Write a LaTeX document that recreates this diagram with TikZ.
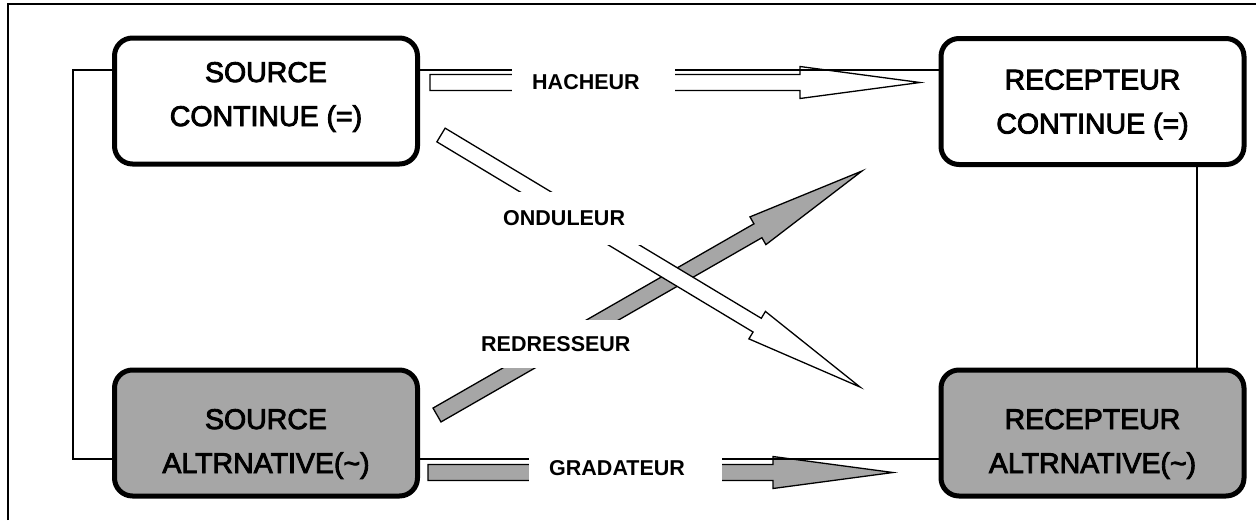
\documentclass[tikz,border=0pt]{standalone}
\usepackage{fontspec}
\setmainfont{Liberation Sans}
\newfontfamily\medfont[FakeBold=3]{Liberation Sans}
\usetikzlibrary{calc}
\definecolor{boxgray}{HTML}{A6A6A6}
\tikzset{
  box/.style={draw, line width=5pt, rounded corners=18pt, minimum width=303pt,
    minimum height=126pt, inner sep=0pt, align=center,
    font=\medfont\fontsize{28.5}{44}\selectfont, text depth=0pt},
  dcbox/.style={box, fill=white},
  acbox/.style={box, fill=boxgray},
  conn/.style={line width=1.3pt},
  frameline/.style={line width=1.3pt},
  fat/.style={draw, line width=1.3pt, line join=miter},
  lbl/.style={fill=white, inner xsep=20pt, inner ysep=0pt,
    font=\bfseries\fontsize{21.5}{25}\selectfont, align=left, anchor=west},
}
\newcommand\fatarrow[4]{% #1 style, #2 tail, #3 tip, #4 prefix
  \coordinate (#4b) at ($(#3)!120pt!(#2)$);
  \draw[#1] ($(#2)!8pt!90:(#3)$) -- ($(#4b)!8pt!90:(#3)$)
    -- ($(#4b)!16pt!90:(#3)$) -- (#3) -- ($(#4b)!16pt!-90:(#3)$)
    -- ($(#4b)!8pt!-90:(#3)$) -- ($(#2)!8pt!-90:(#3)$) -- cycle;}
\begin{document}
\begin{tikzpicture}[x=1pt,y=-1pt]
\useasboundingbox (0,0) rectangle (1256,520);
% frame
\draw[frameline] (8,520) -- (8,4) -- (1256,4);
% boxes
\node[dcbox, text height=50pt] (sc) at (266,101) {SOURCE\\CONTINUE (=)};
\node[dcbox, text height=64pt] (rc) at (1092.5,101.5) {RECEPTEUR\\CONTINUE (=)};
\node[acbox, text height=80pt] (sa) at (266,433) {SOURCE\\ALTRNATIVE(\char`\~)};
\node[acbox, text height=80pt] (ra) at (1092.5,433) {RECEPTEUR\\ALTRNATIVE(\char`\~)};
% arrow end points
\coordinate (hT) at (430,82.5);  \coordinate (hP) at (920,82.5);
\coordinate (gT) at (428,472.5); \coordinate (gP) at (893,472.5);
\coordinate (oT) at (441,135);   \coordinate (oP) at (860,387);
\coordinate (rT) at (437,415);   \coordinate (rP) at (862,171);
% fat arrows
\fatarrow{fat, fill=white}{hT}{hP}{h}
\fatarrow{fat, fill=boxgray}{gT}{gP}{g}
\fatarrow{fat, fill=boxgray}{rT}{rP}{r}
\fatarrow{fat, fill=white}{oT}{oP}{o}
% connectors
\draw[conn] ([yshift=31pt]sc.west) -- ++(-39pt,0pt) |- ([yshift=-26pt]sa.west);
\draw[conn] ([yshift=31pt]sc.east) -- ([yshift=31.5pt]rc.west);
\draw[conn] ([yshift=-26pt]sa.east) -- ([yshift=-26pt]ra.west);
\draw[conn] ([xshift=104.5pt]rc.south) -- ([xshift=104.5pt]ra.north);
% labels
\node[lbl, text width=123pt, minimum height=40pt] (lh) at (512,82) {HACHEUR};
\node[lbl, text width=140pt, minimum height=53pt] (lo) at (483,218.5) {ONDULEUR};
\node[lbl, text width=150pt, minimum height=48pt] (lr) at (461,344) {REDRESSEUR};
\node[lbl, text width=153pt, minimum height=44pt] (lg) at (529,468) {GRADATEUR};
\end{tikzpicture}
\end{document}
